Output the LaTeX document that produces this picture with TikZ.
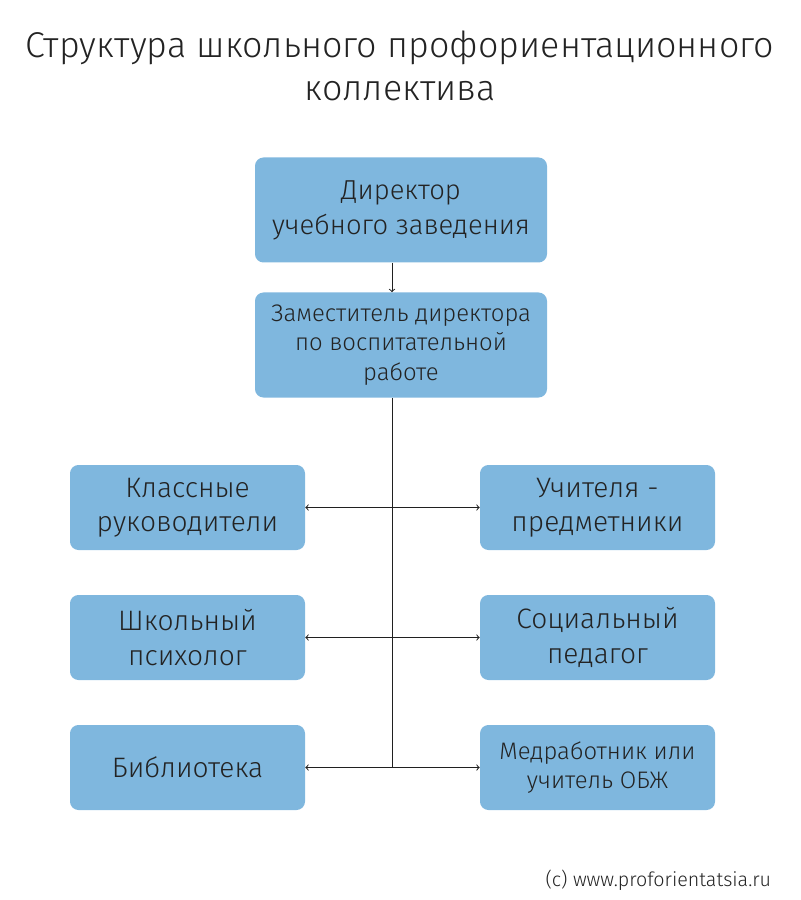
\documentclass[tikz,border=0pt]{standalone}
\usepackage{fontspec}
\setmainfont{Fira Sans}[UprightFont=* Light]
\usetikzlibrary{arrows,positioning}
\definecolor{boxblue}{RGB}{127,183,222}
\definecolor{ink}{RGB}{35,35,35}
\tikzstyle{block} = [rectangle, fill=boxblue, text=ink, align=center,
  rounded corners=6pt, inner sep=0pt]
\tikzstyle{head} = [block, minimum width=7.3cm, minimum height=2.625cm]
\tikzstyle{staff} = [block, minimum width=5.875cm, minimum height=2.125cm,
  font=\fontsize{20}{24.5}\selectfont]
\tikzstyle{line} = [draw, ink!90!black, line width=0.7pt, -to]
\tikzstyle{biline} = [draw, ink!90!black, line width=0.7pt, to-to]

\begin{document}
\begin{tikzpicture}[node distance=3.25cm, auto]
  \useasboundingbox (0,0) rectangle (20,-22.5);

  \node [text=ink, align=center, font=\fontsize{25.5}{30.6}\selectfont] (title) at (10,-1.65)
    {Структура школьного профориентационного\\коллектива};

  \node [head, font=\fontsize{19.5}{25}\selectfont] (director) at (10.025,-5.25)
    {Директор\\учебного заведения};
  \node [head, below of=director, node distance=3.375cm,
    font=\fontsize{17}{21}\selectfont] (deputy)
    {Заместитель директора\\по воспитательной\\работе};

  \node [staff] (classes) at (4.6875,-12.6875) {Классные\\руководители};
  \node [staff, below of=classes] (psych) {Школьный\\психолог};
  \node [staff, below of=psych] (library) {Библиотека};

  \node [staff] (teachers) at (14.9375,-12.6875) {Учителя -\\предметники};
  \node [staff, below of=teachers] (social) {Социальный\\педагог};
  \node [staff, below of=social, font=\fontsize{17}{21}\selectfont] (medic)
    {Медработник или\\учитель ОБЖ};

  \coordinate (spine) at (9.8,0);

  \path [line] (director.south -| spine) -- (deputy.north -| spine);
  \path [draw, ink!90!black, line width=0.7pt] (deputy.south -| spine) -- (library.east -| spine);
  \path [biline] (classes.east) -- (teachers.west);
  \path [biline] (psych.east) -- (social.west);
  \path [biline] (library.east) -- (medic.west);

  \node [text=ink, anchor=east, font=\fontsize{14}{16}\selectfont] (credit) at (19.4,-22.0)
    {(c) www.proforientatsia.ru};

\end{tikzpicture}
\end{document}
